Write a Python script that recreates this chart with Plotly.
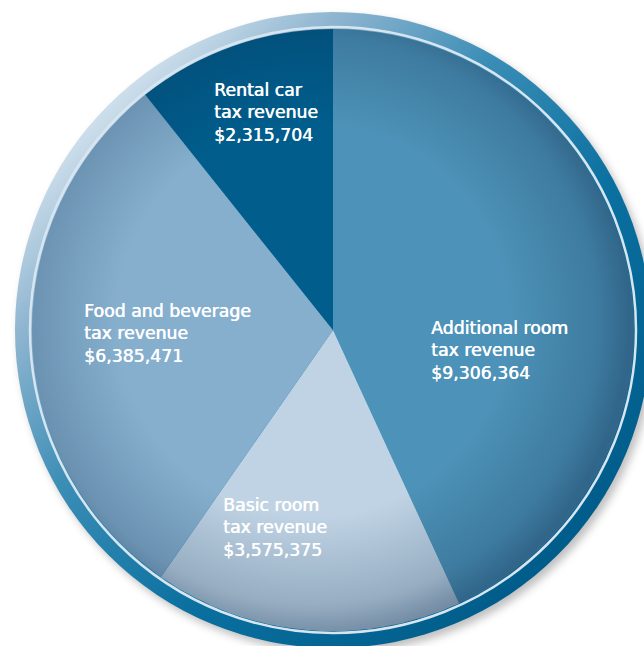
import base64
import plotly.graph_objects as go

categories = ["Additional room tax revenue", "Basic room tax revenue",
              "Food and beverage tax revenue", "Rental car tax revenue"]
label_lines = [["Additional room", "tax revenue"], ["Basic room", "tax revenue"],
               ["Food and beverage", "tax revenue"], ["Rental car", "tax revenue"]]
values = [9306364, 3575375, 6385471, 2315704]
colors = ["#4d92b8", "#bfd3e4", "#86afce", "#005d8c"]
# label anchor positions in pixels (left edge, centre of middle line) - styling
label_px = [(430, 350), (222, 527), (83, 333), (213, 112)]

W, H = 644, 646
CX, CY, R = 333, 330, 301


def svg_uri(svg):
    return "data:image/svg+xml;base64," + base64.b64encode(svg.encode()).decode()


bg_svg = f'''<svg xmlns="http://www.w3.org/2000/svg" width="{W}" height="{H}" viewBox="0 0 {W} {H}">
<defs>
<linearGradient id="g" gradientUnits="userSpaceOnUse" x1="100" y1="100" x2="560" y2="560">
<stop offset="0" stop-color="#d4e3ee"/>
<stop offset="0.16" stop-color="#90b6d1"/>
<stop offset="0.38" stop-color="#3a8db5"/>
<stop offset="0.65" stop-color="#0a70a0"/>
<stop offset="1" stop-color="#005c8a"/>
</linearGradient>
<filter id="b" x="-10%" y="-10%" width="120%" height="120%"><feGaussianBlur stdDeviation="4"/></filter>
</defs>
<circle cx="{CX+4}" cy="{CY+5}" r="318" fill="rgba(0,0,0,0.25)" filter="url(#b)"/>
<circle cx="{CX}" cy="{CY}" r="318" fill="url(#g)"/>
<circle cx="{CX}" cy="{CY}" r="303" fill="none" stroke="#d6e5f0" stroke-width="2.5"/>
</svg>'''

vig_svg = f'''<svg xmlns="http://www.w3.org/2000/svg" width="{W}" height="{H}" viewBox="0 0 {W} {H}">
<defs>
<radialGradient id="v" gradientUnits="userSpaceOnUse" cx="{CX-20}" cy="{CY-10}" r="{R+15}">
<stop offset="0" stop-color="#0a2a4a" stop-opacity="0"/>
<stop offset="0.62" stop-color="#0a2a4a" stop-opacity="0"/>
<stop offset="0.9" stop-color="#0a2a4a" stop-opacity="0.22"/>
<stop offset="1" stop-color="#0a2a4a" stop-opacity="0.42"/>
</radialGradient>
</defs>
<circle cx="{CX}" cy="{CY}" r="{R}" fill="url(#v)"/>
</svg>'''

fig = go.Figure()
fig.add_trace(go.Pie(
    labels=categories, values=values, sort=False, direction="clockwise", rotation=0,
    marker=dict(colors=colors, line=dict(width=0)),
    textinfo="none", hoverinfo="label+value", showlegend=False,
    domain=dict(x=[(CX - R) / W, (CX + R) / W], y=[(H - CY - R) / H, (H - CY + R) / H]),
))

for lines, v, (px, py) in zip(label_lines, values, label_px):
    fig.add_annotation(
        x=px / W, y=1 - py / H, xref="paper", yref="paper",
        xanchor="left", yanchor="middle", align="left", showarrow=False,
        text="<br>".join(lines + [f"${v:,}"]), borderpad=0,
        font=dict(family="DejaVu Sans", size=17.3, color="white",
                  shadow="0.6px 0 0 #ffffff"),
    )

fig.update_layout(
    width=W, height=H, margin=dict(l=0, r=0, t=0, b=0),
    paper_bgcolor="white", plot_bgcolor="white",
    images=[
        dict(source=svg_uri(bg_svg), xref="paper", yref="paper", x=0, y=1,
             sizex=1, sizey=1, sizing="stretch", xanchor="left", yanchor="top", layer="below"),
        dict(source=svg_uri(vig_svg), xref="paper", yref="paper", x=0, y=1,
             sizex=1, sizey=1, sizing="stretch", xanchor="left", yanchor="top", layer="above"),
    ],
)

fig.write_html("out.html")
